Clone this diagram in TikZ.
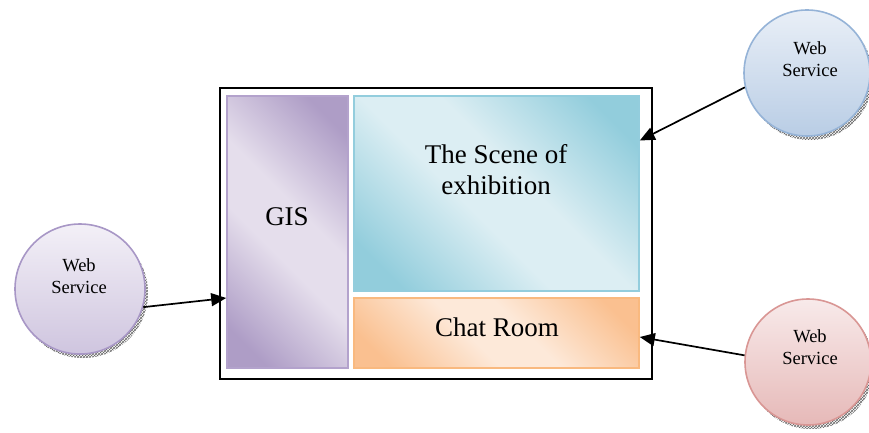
\documentclass[tikz,border=0pt]{standalone}
\usepackage{fontspec}
\setmainfont{Liberation Serif}
\usetikzlibrary{arrows.meta,patterns,calc}
\definecolor{pd}{HTML}{AE9DC6}
\definecolor{pl}{HTML}{E5DEEC}
\definecolor{pb}{HTML}{B3A2CC}
\definecolor{td}{HTML}{92CDDC}
\definecolor{tl}{HTML}{DCEEF3}
\definecolor{tb}{HTML}{93CDDD}
\definecolor{od}{HTML}{FAC090}
\definecolor{ol}{HTML}{FDE9D9}
\definecolor{ob}{HTML}{F9B97F}
\definecolor{lpt}{HTML}{F3F0F7}
\definecolor{lpb}{HTML}{CFC5DF}
\definecolor{lpd}{HTML}{A897C6}
\definecolor{bt}{HTML}{E9EFF7}
\definecolor{bb}{HTML}{B9CDE5}
\definecolor{bd}{HTML}{95B3D7}
\definecolor{rt}{HTML}{F8EAEA}
\definecolor{rb}{HTML}{E6B9B8}
\definecolor{rd}{HTML}{D99694}
\pgfdeclarehorizontalshading{mirpurple}{100bp}{color(0bp)=(pd); color(22bp)=(pd); color(44bp)=(pl); color(56bp)=(pl); color(78bp)=(pd); color(100bp)=(pd)}
\pgfdeclarehorizontalshading{mirteal}{100bp}{color(0bp)=(td); color(22bp)=(td); color(44bp)=(tl); color(56bp)=(tl); color(78bp)=(td); color(100bp)=(td)}
\pgfdeclarehorizontalshading{mirorange}{100bp}{color(0bp)=(od); color(22bp)=(od); color(44bp)=(ol); color(56bp)=(ol); color(78bp)=(od); color(100bp)=(od)}
\tikzset{
  panel/.style={draw, line width=1.6pt, inner sep=0pt},
  paneltext/.style={font=\fontsize{27}{31}\selectfont, align=center},
  ws/.style={circle, draw, line width=1.6pt, inner sep=0pt},
  wstext/.style={font=\fontsize{18.5}{22}\selectfont, align=center},
  shadowc/.style={circle, inner sep=0pt, pattern=crosshatch, pattern color=gray!80!black},
  conn/.style={line width=1.7pt, -{Triangle[length=15pt,width=13pt]}}
}
\begin{document}
\begin{tikzpicture}[x=1pt,y=-1pt]
\clip (0,0) rectangle (869,432);
\useasboundingbox (0,0) rectangle (869,432);
% outer frame
\node[draw=black, line width=1.6pt, minimum width=432pt, minimum height=291pt, inner sep=0pt] (frame) at (436,233.5) {};
% panels
\node[panel, draw=pb, shading=mirpurple, shading angle=45, minimum width=121pt, minimum height=272pt] (gis) at (287.5,232) {};
\node[paneltext] (gist) at (287,217) {GIS};
\node[panel, draw=tb, shading=mirteal, shading angle=45, minimum width=285pt, minimum height=195pt] (scene) at (496.5,193.5) {};
\node[paneltext] (scenet) at (496,170) {The Scene of\\exhibition};
\node[panel, draw=ob, shading=mirorange, shading angle=45, minimum width=285pt, minimum height=70pt] (chat) at (496.5,333) {};
\node[paneltext] (chatt) at (497,327) {Chat Room};
% web services (shadows)
\node[shadowc, minimum size=130pt] (shl) at (83,293) {};
\node[shadowc, minimum size=126pt] (shtr) at (810,77) {};
\node[shadowc, minimum size=126pt] (shbr) at (811,366) {};
% circles
\node[ws, draw=lpd, top color=lpt, bottom color=lpb, minimum size=130pt] (wsl) at (80,289) {};
\node[wstext] (wslt) at (79,276) {Web\\Service};
\node[ws, draw=bd, top color=bt, bottom color=bb, minimum size=126pt] (wstr) at (807,73) {};
\node[ws, draw=rd, top color=rt, bottom color=rb, minimum size=126pt] (wsbr) at (808,362) {};
\node[wstext] (wstrt) at (810,59) {Web\\Service};
\node[wstext] (wsbrt) at (810,347) {Web\\Service};
% connectors
\draw[conn] (wsl.-16) -- ([yshift=-66pt]gis.west);
\draw[conn] (wstr.-167) -- ([yshift=53pt]scene.east);
\draw[conn] (wsbr.174) -- ([yshift=-4pt]chat.east);
\end{tikzpicture}
\end{document}
